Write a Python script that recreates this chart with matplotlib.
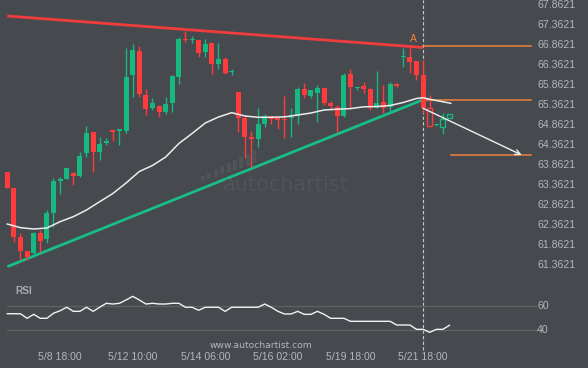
import matplotlib
matplotlib.use('Agg')
import matplotlib.pyplot as plt
from matplotlib.patches import Rectangle
import numpy as np

# ---------------- data ----------------
opens = [63.683, 63.268, 62.043, 61.700, 61.643, 62.143, 62.000, 62.658, 63.458, 63.500,
         63.643, 63.583, 64.143, 64.683, 64.183, 64.393, 64.725, 64.708, 64.708, 66.100,
         66.700, 65.600, 65.268, 65.333, 65.183, 65.408, 66.058, 66.993, 66.975, 66.975,
         66.675, 66.893, 66.375, 66.500, 66.168, 65.683, 65.033, 64.543, 64.500, 64.875,
         65.075, 65.008, 64.993, 65.025, 65.075, 65.743, 65.583, 65.658, 65.768, 65.408,
         65.293, 65.083, 66.118, 65.775, 65.825, 65.743, 65.283, 65.433, 65.293, 65.875,
         66.550, 66.543, 66.450, 66.100, 65.268, 64.843, 64.808, 65.018]
closes = [63.283, 62.058, 61.708, 61.558, 62.143, 61.958, 62.658, 63.450, 63.500, 63.783,
          63.583, 64.075, 64.658, 64.183, 64.368, 64.450, 64.683, 64.725, 66.058, 66.725,
          65.618, 65.250, 65.393, 65.183, 65.375, 66.083, 67.000, 66.975, 66.993, 66.658,
          66.875, 66.375, 66.500, 66.158, 66.183, 65.033, 64.558, 64.508, 64.868, 65.075,
          64.993, 64.983, 64.975, 65.043, 65.743, 65.600, 65.725, 65.768, 65.393, 65.333,
          65.083, 66.100, 65.808, 65.793, 65.750, 65.268, 65.408, 65.268, 65.875, 65.825,
          66.565, 66.433, 66.100, 65.268, 64.833, 64.858, 64.993, 65.133]
highs = [63.683, 63.308, 62.143, 61.700, 62.183, 62.225, 62.725, 63.518, 63.558, 63.783,
         63.683, 64.183, 64.825, 64.683, 64.558, 64.518, 64.743, 64.743, 66.768, 66.875,
         66.825, 65.743, 65.518, 65.350, 65.543, 66.100, 67.058, 67.208, 67.075, 66.975,
         66.993, 66.908, 66.908, 66.550, 66.250, 65.683, 65.100, 64.700, 65.268, 65.125,
         65.075, 65.043, 65.575, 65.268, 65.793, 65.893, 65.725, 65.850, 65.768, 65.458,
         65.350, 66.143, 66.243, 65.808, 65.933, 65.768, 66.208, 65.850, 65.933, 65.893,
         66.768, 66.808, 66.450, 66.475, 65.600, 64.875, 65.143, 65.133]
lows = [63.283, 61.918, 61.475, 61.475, 61.575, 61.683, 61.893, 62.308, 63.118, 63.500,
        63.350, 63.543, 64.058, 63.683, 63.975, 64.350, 64.450, 64.350, 64.643, 65.558,
        65.558, 65.100, 65.225, 65.043, 65.118, 65.168, 65.868, 66.933, 66.893, 66.543,
        66.558, 66.125, 66.250, 66.125, 66.100, 64.683, 64.033, 63.808, 64.308, 64.793,
        64.875, 64.750, 64.518, 64.543, 64.868, 65.518, 65.533, 64.933, 65.350, 65.225,
        64.683, 65.058, 65.268, 65.725, 65.643, 65.225, 65.268, 65.143, 65.183, 65.793,
        66.308, 66.143, 65.975, 65.143, 64.833, 64.825, 64.625, 65.018]
hollow_candles = [64, 66, 67]

ma_idx = [0, 2, 4, 6, 8, 10, 12, 14, 16, 18, 20, 22, 24, 26, 28, 30, 32, 34, 36, 38,
          40, 42, 44, 46, 48, 50, 52, 54, 56, 58, 60, 62, 63, 64, 67.2]
ma_val = [62.375, 62.283, 62.250, 62.275, 62.433, 62.558, 62.725, 62.933, 63.138, 63.400,
          63.688, 63.838, 64.050, 64.388, 64.638, 64.900, 65.050, 65.158, 65.075, 65.043,
          65.043, 65.053, 65.100, 65.150, 65.225, 65.245, 65.260, 65.305, 65.313, 65.338,
          65.413, 65.513, 65.533, 65.493, 65.393]

rsi = [53.8, 53.8, 53.8, 50.0, 53.3, 50.0, 50.0, 54.2, 56.3, 59.2,
       55.8, 55.8, 59.2, 55.8, 59.2, 62.5, 61.9, 62.5, 65.3, 68.3,
       65.3, 61.9, 62.5, 61.9, 61.9, 62.5, 62.5, 59.2, 59.2, 56.7,
       59.2, 59.2, 59.2, 55.8, 59.2, 59.2, 59.2, 59.2, 59.2, 61.9,
       59.2, 55.8, 53.6, 53.6, 55.8, 53.3, 53.3, 55.8, 53.3, 50.0,
       50.0, 50.0, 47.5, 47.5, 47.5, 47.5, 47.5, 47.5, 47.5, 44.4,
       44.4, 44.4, 40.8, 40.8, 38.3, 40.8, 40.8, 44.2]

resistance_idx = [0, 63]
resistance_val = [67.575, 66.788]
support_idx = [0, 63]
support_val = [61.308, 65.483]
level_top = 66.825
level_mid = 65.475
level_target = 64.093
forecast_idx = [63, 77.94]
forecast_val = [65.268, 64.100]
breakout_idx = 63
target_start_idx = 67.2
levels_end_idx = 79.35

price_ticks = [67.8621, 67.3621, 66.8621, 66.3621, 65.8621, 65.3621, 64.8621,
               64.3621, 63.8621, 63.3621, 62.8621, 62.3621, 61.8621, 61.3621]
rsi_ticks = [60, 40]
xtick_idx = [8, 19, 30, 41, 52, 63]
xtick_labels = ['5/8 18:00', '5/12 10:00', '5/14 06:00', '5/16 02:00', '5/19 18:00', '5/21 18:00']

# ---------------- style ----------------
BG = '#46494e'
GREEN = '#16b880'
RED = '#ff3b3b'
ORANGE = '#f0803c'
TXT = '#b3b6ba'
FONT = 'Liberation Sans'

W, H = 588, 368
fig = plt.figure(figsize=(W / 100, H / 100), dpi=100, facecolor=BG)

x0 = -7.3 / 6.6
x1 = (W - 7.3) / 6.6
main_top, main_bot = 0, 275
ax = fig.add_axes([0, (H - main_bot) / H, 1, (main_bot - main_top) / H])
rx = fig.add_axes([0, 0, 1, (H - main_bot) / H])
for a in (ax, rx):
    a.set_facecolor(BG)
    a.set_axis_off()
    a.set_xlim(x0, x1)
ax.set_ylim(67.975 - main_bot / 40, 67.975)
rx.set_ylim(60 - (368 - 306.3) / 1.2, 60 + (306.3 - 275) / 1.2)

# watermark
wm = '#505459'
for k in range(9):
    hpx = 5 + 1.0 * k
    bx = (201 + 6.4 * k) / W
    by = (H - (181 - 2.2 * k)) / H
    fig.patches.append(Rectangle((bx, by), 4 / W, hpx / H, transform=fig.transFigure,
                                 facecolor=wm, edgecolor='none', zorder=0))
fig.text(286 / W, (H - 185) / H, 'autochartist', color=wm, fontsize=15,
         family='DejaVu Sans', ha='center', va='center', zorder=0)

# trend lines
ax.plot(resistance_idx, resistance_val, color='#f03c3c', lw=2.0, solid_capstyle='butt', zorder=2)
ax.plot(support_idx, support_val, color='#19bd85', lw=2.0, solid_capstyle='butt', zorder=2)

# candles
bw = 0.75
for i, (o, c, h, l) in enumerate(zip(opens, closes, highs, lows)):
    col = GREEN if c >= o else RED
    ax.plot([i, i], [l, h], color=col, lw=1.0, zorder=3, solid_capstyle='butt')
    bot = min(o, c)
    hh = max(abs(c - o), 0.035)
    if i in hollow_candles:
        ax.add_patch(Rectangle((i - bw / 2, bot), bw, hh, facecolor=BG, edgecolor=col,
                               lw=1.0, zorder=4))
    else:
        ax.add_patch(Rectangle((i - bw / 2, bot), bw, hh, facecolor=col, edgecolor='none',
                               zorder=4))

# moving average
ax.plot(ma_idx, ma_val, color='#ececec', lw=1.1, zorder=5)

# levels
ax.plot([breakout_idx, levels_end_idx], [level_top, level_top], color=ORANGE, lw=1.1, zorder=2)
ax.plot([breakout_idx, levels_end_idx], [level_mid, level_mid], color=ORANGE, lw=1.1, zorder=2)
ax.plot([target_start_idx, levels_end_idx], [level_target, level_target], color=ORANGE, lw=1.1, zorder=2)
ax.annotate('', xy=(forecast_idx[1], forecast_val[1]), xytext=(forecast_idx[0], forecast_val[0]),
            arrowprops=dict(arrowstyle='->', color='#eeeeee', lw=1.0, mutation_scale=9,
                            shrinkA=0, shrinkB=0), zorder=6)
ax.text(breakout_idx - 1.45, level_top + 0.04, 'A', color=ORANGE, fontsize=7.5, family=FONT,
        ha='center', va='bottom', zorder=6)

# vertical dashed line
ax.axvline(breakout_idx, color='#c9c9c9', lw=0.8, ls=(0, (3, 2)), zorder=1)
rx.axvline(breakout_idx, ymin=18 / 93, ymax=1, color='#c9c9c9', lw=0.8, ls=(0, (3, 2)), zorder=1)

# price labels
for p in price_ticks:
    ax.text(537 / W, p, f'{p:.4f}', transform=ax.get_yaxis_transform(), color=TXT,
            fontsize=7.6, family=FONT, ha='left', va='center')

# RSI panel
grid_end = (536.7 - 7.3) / 6.6
for t in rsi_ticks:
    rx.plot([0, grid_end], [t, t], color='#5d615f', lw=1.0, zorder=1)
    rx.text(537 / W, t, str(t), transform=rx.get_yaxis_transform(), color=TXT,
            fontsize=7.6, family=FONT, ha='left', va='center')
rx.plot(range(len(rsi)), rsi, color='#f2f2f2', lw=1.0, zorder=3)
rx.text(15 / W, (H - 291) / 93, 'RSI', transform=rx.transAxes, color='#a7abb0',
        fontsize=7.3, family=FONT, fontweight='bold', ha='left', va='center')
rx.text(261 / W, (H - 345) / 93, 'www.autochartist.com', transform=rx.transAxes,
        color=TXT, fontsize=6.6, family='DejaVu Sans', ha='center', va='center')
for xi, lab in zip(xtick_idx, xtick_labels):
    rx.text(xi, (H - 356.7) / 93, lab, transform=rx.get_xaxis_transform(), color=TXT,
            fontsize=7.6, family=FONT, ha='center', va='center')

fig.savefig('out.png', dpi=100, facecolor=BG)
